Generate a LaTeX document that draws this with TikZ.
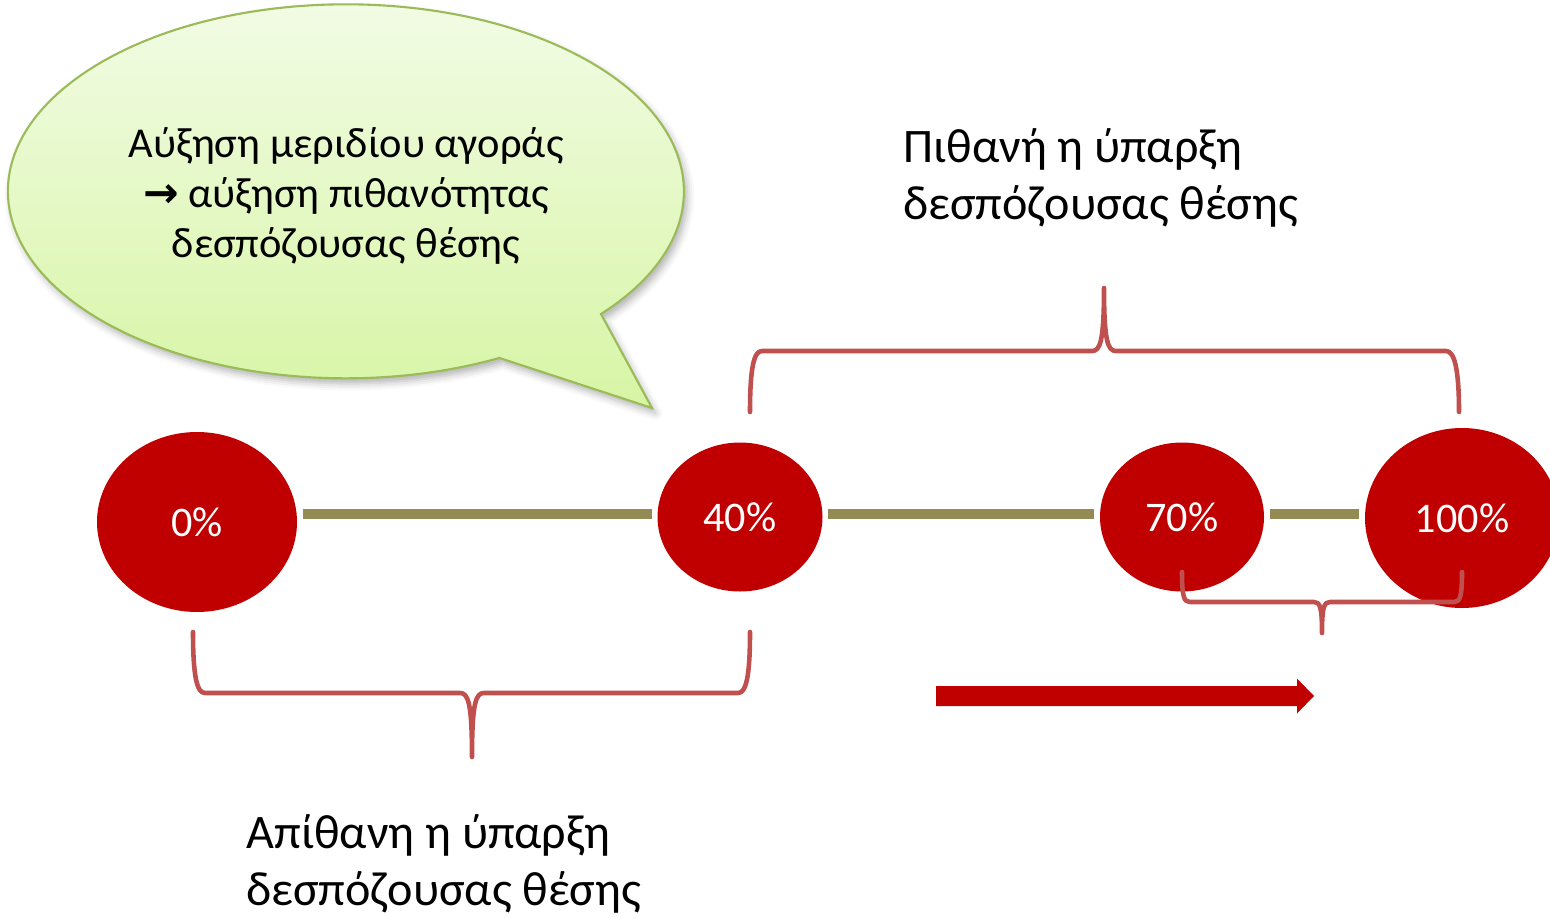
\documentclass[tikz,border=0pt]{standalone}
\usepackage{fontspec}
\setmainfont{Carlito}
\newfontfamily\arrowfont{DejaVu Sans}
\usetikzlibrary{shapes.geometric,shadows.blur}
\definecolor{dotred}{HTML}{C00000}
\definecolor{lineolive}{HTML}{948A54}
\definecolor{bracered}{HTML}{C0504D}
\definecolor{bubbleedge}{HTML}{9BBB59}
\definecolor{bubbletop}{HTML}{F3FCE8}
\definecolor{bubblebot}{HTML}{D7F5A5}

\begin{document}
\begin{tikzpicture}[
    share/.style={ellipse, fill=dotred, text=white, inner sep=0pt, font=\fontsize{12}{14}\selectfont},
    timeline/.style={lineolive, line width=2.85pt, shorten <=0.05cm, shorten >=0.05cm},
    bracket/.style={bracered, line width=1.3pt, line cap=round, line join=round},
    remark/.style={align=left, anchor=base west, inner sep=0pt, font=\fontsize{13.7}{16.2}\selectfont}
]
    \useasboundingbox (0,0) rectangle (15.5,9.17);

    %Speech bubble
    \draw[bubbleedge, line width=0.6pt, top color=bubbletop, bottom color=bubblebot,
          blur shadow={shadow xshift=1pt, shadow yshift=-1.5pt, shadow blur radius=2pt, shadow opacity=30}]
        (6.52,5.09) -- (6.01,6.03) arc[start angle=-41, end angle=297, x radius=3.38, y radius=1.87] -- cycle;
    \node[align=center, font=\fontsize{12.1}{14.2}\selectfont] (note) at (3.46,7.21)
        {Αύξηση μεριδίου αγοράς\\{\arrowfont\bfseries →} αύξηση πιθανότητας\\δεσπόζουσας θέσης};

    %Market share points
    \node[share, minimum width=2.00cm, minimum height=1.80cm] (p0) at (1.97,3.95) {0\%};
    \node[share, minimum width=1.65cm, minimum height=1.49cm] (p40) at (7.40,4.00) {40\%};
    \node[share, minimum width=1.64cm, minimum height=1.49cm] (p70) at (11.82,4.00) {70\%};
    \node[share, minimum width=1.94cm, minimum height=1.80cm] (p100) at (14.62,3.99) {100\%};

    %Timeline
    \coordinate (axis) at (0,4.03);
    \draw[timeline] (p0.east |- axis) -- (p40.west |- axis);
    \draw[timeline] (p40.east |- axis) -- (p70.west |- axis);
    \draw[timeline] (p70.east |- axis) -- (p100.west |- axis);

    %Braces
    \draw[bracket] (7.50,5.05) .. controls (7.50,5.50) and (7.54,5.66) .. (7.62,5.66) -- (10.92,5.66)
        .. controls (11.00,5.66) and (11.04,5.75) .. (11.04,6.29)
        .. controls (11.04,5.75) and (11.08,5.66) .. (11.16,5.66) -- (14.46,5.66)
        .. controls (14.54,5.66) and (14.59,5.50) .. (14.59,5.05);
    \draw[bracket] (1.93,2.85) .. controls (1.93,2.40) and (1.97,2.24) .. (2.05,2.24) -- (4.60,2.24)
        .. controls (4.68,2.24) and (4.72,2.15) .. (4.72,1.60)
        .. controls (4.72,2.15) and (4.76,2.24) .. (4.84,2.24) -- (7.38,2.24)
        .. controls (7.46,2.24) and (7.50,2.40) .. (7.50,2.85);
    \draw[bracket] (11.82,3.45) .. controls (11.82,3.20) and (11.84,3.15) .. (11.90,3.15) -- (13.14,3.15)
        .. controls (13.20,3.15) and (13.22,3.10) .. (13.22,2.84)
        .. controls (13.22,3.10) and (13.24,3.15) .. (13.30,3.15) -- (14.54,3.15)
        .. controls (14.60,3.15) and (14.62,3.20) .. (14.62,3.45);

    %Arrow
    \fill[dotred] (9.36,2.31) -- (12.97,2.31) -- (12.97,2.385) -- (13.14,2.21)
        -- (12.97,2.035) -- (12.97,2.11) -- (9.36,2.11) -- cycle;

    %Labels
    \node[remark] (likely) at (9.03,6.98) {Πιθανή η ύπαρξη\\δεσπόζουσας θέσης};
    \node[remark] (unlikely) at (2.46,0.12) {Απίθανη η ύπαρξη\\δεσπόζουσας θέσης};

\end{tikzpicture}
\end{document}
